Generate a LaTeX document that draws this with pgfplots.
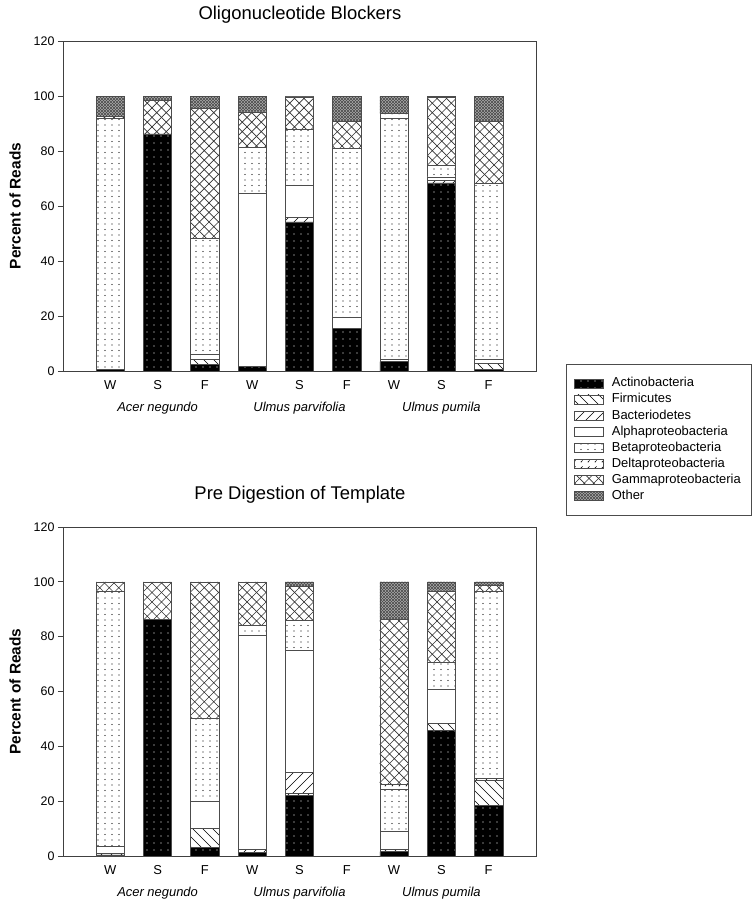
\documentclass[border=0pt]{standalone}
\usepackage{fontspec}
\setmainfont{Liberation Sans}
\usepackage{pgfplots}
\pgfplotsset{compat=1.18}
\usepackage{pgfplotstable}
\usetikzlibrary{patterns}

\pgfdeclarepatternformonly{adots}{\pgfqpoint{-1bp}{-1bp}}{\pgfqpoint{1bp}{1bp}}{\pgfqpoint{7bp}{7bp}}{\pgfpathcircle{\pgfqpoint{0bp}{0bp}}{0.7bp}\pgfusepath{fill}}
\pgfdeclarepatternformonly{bdots}{\pgfqpoint{-1bp}{-1bp}}{\pgfqpoint{1bp}{1bp}}{\pgfqpoint{7bp}{5.5bp}}{\pgfpathcircle{\pgfqpoint{0bp}{0bp}}{0.55bp}\pgfusepath{fill}}
\pgfdeclarepatternformonly{ddots}{\pgfqpoint{-1bp}{-1bp}}{\pgfqpoint{3bp}{3bp}}{\pgfqpoint{7bp}{6bp}}{\pgfsetlinewidth{0.6bp}\pgfpathmoveto{\pgfqpoint{0bp}{0bp}}\pgfpathlineto{\pgfqpoint{1.6bp}{1.6bp}}\pgfusepath{stroke}\pgfpathcircle{\pgfqpoint{0bp}{0bp}}{0.5bp}\pgfusepath{fill}}
\pgfdeclarepatternformonly{nwlines}{\pgfqpoint{-1bp}{-1bp}}{\pgfqpoint{11bp}{11bp}}{\pgfqpoint{10bp}{10bp}}{\pgfsetlinewidth{0.6bp}\pgfpathmoveto{\pgfqpoint{0bp}{10bp}}\pgfpathlineto{\pgfqpoint{10.1bp}{-0.1bp}}\pgfusepath{stroke}}
\pgfdeclarepatternformonly{nelines}{\pgfqpoint{-1bp}{-1bp}}{\pgfqpoint{11bp}{11bp}}{\pgfqpoint{10bp}{10bp}}{\pgfsetlinewidth{0.6bp}\pgfpathmoveto{\pgfqpoint{0bp}{0bp}}\pgfpathlineto{\pgfqpoint{10.1bp}{10.1bp}}\pgfusepath{stroke}}
\pgfdeclarepatternformonly{gcross}{\pgfqpoint{-1bp}{-1bp}}{\pgfqpoint{10.5bp}{10.5bp}}{\pgfqpoint{9.5bp}{9.5bp}}{\pgfsetlinewidth{0.7bp}\pgfpathmoveto{\pgfqpoint{-0.1bp}{-0.1bp}}\pgfpathlineto{\pgfqpoint{9.6bp}{9.6bp}}\pgfpathmoveto{\pgfqpoint{-0.1bp}{9.6bp}}\pgfpathlineto{\pgfqpoint{9.6bp}{-0.1bp}}\pgfusepath{stroke}}
\pgfdeclarepatternformonly{ocross}{\pgfqpoint{-1bp}{-1bp}}{\pgfqpoint{4bp}{4bp}}{\pgfqpoint{3bp}{3bp}}{\pgfsetlinewidth{0.55bp}\pgfpathmoveto{\pgfqpoint{-0.1bp}{-0.1bp}}\pgfpathlineto{\pgfqpoint{3.1bp}{3.1bp}}\pgfpathmoveto{\pgfqpoint{-0.1bp}{3.1bp}}\pgfpathlineto{\pgfqpoint{3.1bp}{-0.1bp}}\pgfusepath{stroke}}

\pgfplotstableread{
x act fir bac alp bet del gam oth
1 0.5 0 0 0 91.5 0 0.5 7.5
2 86.2 0 0 0 0 0 12.3 1.5
3 2.5 1.7 0 2.0 42.0 0 47.2 4.6
4 1.8 0 0 62.7 16.8 0 12.9 5.8
5 54.2 0 1.8 11.4 20.5 0 11.8 0.3
6 15.5 0 0 4.2 61.4 0 9.8 9.1
7 3.4 0 0 0.8 87.8 1.6 0 6.4
8 68.4 0 1.0 1.2 4.2 0 24.8 0.4
9 0.6 2.2 0 1.4 64.0 0 22.7 9.1
}\topdata

\pgfplotstableread{
x act fir bac alp bet del gam oth
1 0.4 0 0.6 2.6 93.1 0 3.3 0
2 86.3 0 0 0 0 0 13.7 0
3 3.0 7.1 0 9.7 30.6 0 49.6 0
4 1.2 0 1.2 78.2 3.6 0 15.8 0
5 22.0 0.8 7.7 44.6 10.9 0 12.2 1.8
7 1.6 0 0.8 6.5 15.4 1.9 60.1 13.7
8 45.9 2.5 0 12.4 10.0 0 25.9 3.3
9 18.5 9.0 0.8 0 68.3 0 2.2 1.2
}\botdata

\pgfplotsset{
  sbase/.style={draw=black!70, line width=0.6bp},
  sact/.style={sbase, fill=black, postaction={pattern=adots, pattern color=white}},
  sfir/.style={sbase, fill=white, postaction={pattern=nwlines, pattern color=black}},
  sbac/.style={sbase, fill=white, postaction={pattern=nelines, pattern color=black}},
  salp/.style={sbase, fill=white},
  sbet/.style={sbase, fill=white, postaction={pattern=bdots, pattern color=black}},
  sdel/.style={sbase, fill=white, postaction={pattern=ddots, pattern color=black}},
  sgam/.style={sbase, fill=white, postaction={pattern=gcross, pattern color=black!80}},
  soth/.style={sbase, fill=black!30, postaction={pattern=ocross, pattern color=black!70}},
  myaxis/.style={
    scale only axis, width=473bp,
    ybar stacked, bar width=0.6,
    xmin=0, xmax=10, ymin=0, ymax=120,
    xtick={1,...,9},
    xticklabels={W,{S\\\textit{Acer negundo}},F,W,{S\\\textit{Ulmus parvifolia}},F,W,{S\\\textit{Ulmus pumila}},F},
    ytick={0,20,...,120},
    major x tick style={draw=none},
    ytick align=outside, ytick pos=left,
    major tick length=5bp,
    axis line style={black!75, line width=0.8bp},
    every tick/.style={black!75, line width=0.8bp},
    /pgf/number format/assume math mode=true,
    yticklabel style={font=\fontsize{12.5}{13}\selectfont},
    xticklabel style={font=\fontsize{13}{22}\selectfont, align=center, yshift=-6bp},
    ylabel={Percent of Reads},
    ylabel style={at={(axis description cs:-0.1015,0.5)}, anchor=center, font=\bfseries\fontsize{15.5}{16}\selectfont},
    title style={at={(axis description cs:0.501,1.061)}, anchor=center, font=\fontsize{18.5}{20}\selectfont},
    legend image code/.code={\draw[##1] (0bp,-4.5bp) rectangle (29bp,4.5bp);},
  }
}

\begin{document}
\begin{tikzpicture}
\useasboundingbox (0,0) rectangle (754bp,-906bp);
\begin{axis}[myaxis, at={(63bp,-371bp)}, anchor=south west, height=330bp,
  title={Oligonucleotide Blockers},
  legend style={at={(axis description cs:1.0634,0.0212)}, anchor=north west,
    draw=black!70, line width=0.6bp, fill=white,
    font=\fontsize{13}{13}\selectfont,
    inner xsep=8bp, inner ysep=11bp, row sep=0bp,
    nodes={inner xsep=3bp, inner ysep=1.55bp, text height=10bp, text depth=3bp},
    /tikz/every odd column/.style={column sep=5bp},
    cells={anchor=west}},
  ]
\addplot[sact] table[x=x,y=act]{\topdata};
\addplot[sfir] table[x=x,y=fir]{\topdata};
\addplot[sbac] table[x=x,y=bac]{\topdata};
\addplot[salp] table[x=x,y=alp]{\topdata};
\addplot[sbet] table[x=x,y=bet]{\topdata};
\addplot[sdel] table[x=x,y=del]{\topdata};
\addplot[sgam] table[x=x,y=gam]{\topdata};
\addplot[soth] table[x=x,y=oth]{\topdata};
\legend{Actinobacteria,Firmicutes,Bacteriodetes,Alphaproteobacteria,Betaproteobacteria,Deltaproteobacteria,Gammaproteobacteria,Other}
\end{axis}
\begin{axis}[myaxis, at={(63bp,-856bp)}, anchor=south west, height=329bp,
  title={Pre Digestion of Template},
  title style={at={(axis description cs:0.501,1.079)}},
  ]
\addplot[sact] table[x=x,y=act]{\botdata};
\addplot[sfir] table[x=x,y=fir]{\botdata};
\addplot[sbac] table[x=x,y=bac]{\botdata};
\addplot[salp] table[x=x,y=alp]{\botdata};
\addplot[sbet] table[x=x,y=bet]{\botdata};
\addplot[sdel] table[x=x,y=del]{\botdata};
\addplot[sgam] table[x=x,y=gam]{\botdata};
\addplot[soth] table[x=x,y=oth]{\botdata};
\end{axis}
\end{tikzpicture}
\end{document}
